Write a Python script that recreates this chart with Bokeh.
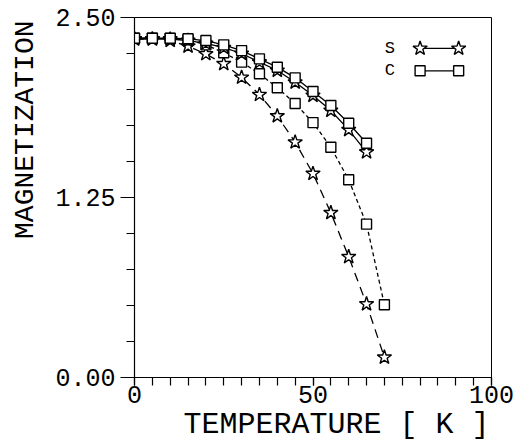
from bokeh.plotting import figure
from bokeh.models import Label, FixedTicker, Range1d, Title
from bokeh.embed import file_html
from bokeh.resources import INLINE

# ---- data ----
temperature_short = [0, 5, 10, 15, 20, 25, 30, 35, 40, 45, 50, 55, 60, 65]
temperature_long = [0, 5, 10, 15, 20, 25, 30, 35, 40, 45, 50, 55, 60, 65, 70]

mag_s_solid = [2.35, 2.35, 2.35, 2.34, 2.32, 2.29, 2.25, 2.19, 2.132, 2.05, 1.958, 1.854, 1.72, 1.565]
mag_c_solid = [2.356, 2.356, 2.356, 2.352, 2.34, 2.31, 2.27, 2.213, 2.155, 2.081, 1.986, 1.889, 1.766, 1.627]
mag_s_dashed = [2.35, 2.35, 2.34, 2.30, 2.247, 2.178, 2.084, 1.964, 1.816, 1.634, 1.416, 1.144, 0.838, 0.51, 0.14]
mag_c_dashed = [2.356, 2.356, 2.354, 2.345, 2.31, 2.255, 2.19, 2.109, 2.012, 1.903, 1.77, 1.599, 1.373, 1.065, 0.505]

x_ticks = [0, 50, 100]
x_tick_labels = ["0", "50", "100"]
y_ticks = [0.0, 1.25, 2.5]
y_tick_labels = ["0.00", "1.25", "2.50"]
x_minor = [5 * i for i in range(21)]
y_minor = [0.25 * i for i in range(11)]

legend_labels = ["S", "C"]
x_title = "TEMPERATURE [ K ]"
y_title = "MAGNETIZATION"

MONO = "Liberation Mono"

p = figure(width=517, height=447, output_backend="svg", toolbar_location=None,
           x_range=Range1d(0, 100), y_range=Range1d(0, 2.5),
           min_border_left=131, min_border_right=26, min_border_top=17, min_border_bottom=70)
p.grid.visible = False
p.outline_line_color = "black"
p.outline_line_width = 1
p.background_fill_color = "white"
p.border_fill_color = "white"

for ax in (p.xaxis[0], p.yaxis[0]):
    ax.axis_line_color = "black"
    ax.axis_line_width = 1.2
    ax.major_tick_line_color = "black"
    ax.minor_tick_line_color = "black"
    ax.major_tick_line_width = 1.2
    ax.minor_tick_line_width = 1.2
    ax.major_tick_in = 0
    ax.minor_tick_in = 0
    ax.minor_tick_out = 8
    ax.major_label_text_font = MONO
    ax.major_label_text_font_size = "25px"
    ax.major_label_text_color = "black"
    ax.axis_label = None

p.xaxis[0].major_tick_out = 8
p.yaxis[0].major_tick_out = 14
p.xaxis[0].ticker = FixedTicker(ticks=x_ticks, minor_ticks=x_minor)
p.xaxis[0].major_label_overrides = {t: l for t, l in zip(x_ticks, x_tick_labels)}
p.xaxis[0].major_label_standoff = 0
p.yaxis[0].ticker = FixedTicker(ticks=y_ticks, minor_ticks=y_minor)
p.yaxis[0].major_label_overrides = {t: l for t, l in zip(y_ticks, y_tick_labels)}
p.yaxis[0].major_label_standoff = 5

# ---- curves ----
p.line(temperature_long, mag_s_dashed, line_color="black", line_width=1.3, line_dash="9 6")
p.line(temperature_long, mag_c_dashed, line_color="black", line_width=1.3, line_dash="4 3")
p.line(temperature_short, mag_s_solid, line_color="black", line_width=1.3)
p.line(temperature_short, mag_c_solid, line_color="black", line_width=1.3)

star_kw = dict(marker="star", size=15, fill_color="white", line_color="black", line_width=1.4)
sq_kw = dict(marker="square", size=10, fill_color="white", line_color="black", line_width=1.4)
p.scatter(temperature_long, mag_s_dashed, **star_kw)
p.scatter(temperature_long, mag_c_dashed, **sq_kw)
p.scatter(temperature_short, mag_s_solid, **star_kw)
p.scatter(temperature_short, mag_c_solid, **sq_kw)

# ---- legend (label left, sample line with two markers right) ----
leg_x = [80, 90.8]
leg_y = [2.285, 2.13]
for lab, yy, kw in zip(legend_labels, leg_y, [star_kw, sq_kw]):
    p.line(leg_x, [yy, yy], line_color="black", line_width=1.3)
    p.scatter(leg_x, [yy, yy], **kw)
    p.add_layout(Label(x=71.5, y=yy, text=lab, text_font=MONO, text_font_size="17px",
                       text_align="center", text_baseline="middle", text_color="black"))

# ---- axis titles ----
has_standoff = "standoff" in Title.properties()
yt = Title(text=y_title, align="right", offset=3, vertical_align="top",
           text_font=MONO, text_font_size="28px",
           text_font_style="normal", text_color="black")
xt = Title(text=x_title, align="right", offset=2, vertical_align="bottom",
           text_font=MONO, text_font_size="30px",
           text_font_style="normal", text_color="black")
if has_standoff:
    yt.standoff = 19
    xt.standoff = 0
p.add_layout(yt, "left")
p.add_layout(xt, "below")

open("out.html", "w").write(file_html(p, INLINE))
